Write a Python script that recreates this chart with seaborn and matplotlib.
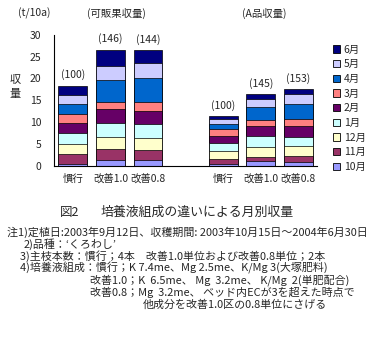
import pandas as pd
import numpy as np
import matplotlib
matplotlib.use("Agg")
import matplotlib.pyplot as plt
import seaborn as sns
from matplotlib.patches import Patch

sns.set_style("white")
plt.rcParams['font.family'] = ['Noto Sans CJK JP', 'DejaVu Sans']

# データ（t/10a）
months = ['10月', '11月', '12月', '1月', '2月', '3月', '4月', '5月', '6月']
colors = ['#9999FF', '#993366', '#FFFFCC', '#CCFFFF', '#660066',
          '#FF8080', '#0066CC', '#CCCCFF', '#000080']
slots = ['a慣行', 'a改善1.0', 'a改善0.8', 'gap', 'b慣行', 'b改善1.0', 'b改善0.8']
tick_labels = ['慣行', '改善1.0', '改善0.8', '', '慣行', '改善1.0', '改善0.8']

# 可販果収量
kanpan_kanko = [0.55, 2.1, 2.3, 2.7, 2.1, 2.1, 2.2, 2.2, 2.0]
kanpan_k10 = [1.45, 2.35, 2.75, 3.35, 3.05, 1.75, 5.0, 3.1, 3.8]
kanpan_k08 = [1.3, 2.45, 2.75, 3.2, 2.95, 2.05, 5.5, 3.4, 2.8]
# A品収量
ahin_kanko = [0.45, 1.2, 1.85, 1.75, 1.7, 1.6, 1.15, 1.05, 0.6]
ahin_k10 = [1.2, 0.9, 2.3, 2.45, 2.35, 1.4, 2.9, 1.8, 1.05]
ahin_k08 = [1.0, 1.35, 2.3, 2.05, 2.5, 1.5, 3.5, 2.15, 1.15]

index_labels = ['(100)', '(146)', '(144)', '', '(100)', '(145)', '(153)']

series = {'a慣行': kanpan_kanko, 'a改善1.0': kanpan_k10, 'a改善0.8': kanpan_k08,
          'b慣行': ahin_kanko, 'b改善1.0': ahin_k10, 'b改善0.8': ahin_k08}

rows = []
for slot, vals in series.items():
    cum = np.cumsum(vals)
    for m, c in zip(months, cum):
        rows.append({'slot': slot, 'month': m, 'cum': c})
df = pd.DataFrame(rows)

fig = plt.figure(figsize=(3.83, 3.57), dpi=100)
ax = fig.add_axes([0.141, 0.535, 0.687, 0.368])

# 累積値を上の月から重ねて描く
for m, col in reversed(list(zip(months, colors))):
    sns.barplot(data=df[df['month'] == m], x='slot', y='cum', order=slots,
                color=col, edgecolor='black', linewidth=0.5, width=0.77,
                saturation=1, errorbar=None, ax=ax)

ax.set_ylim(0, 30)
ax.set_yticks(range(0, 31, 5))
ax.set_xticks(range(len(slots)))
ax.set_xticklabels(tick_labels)
ax.set_xlabel('')
ax.set_ylabel('')
ax.tick_params(axis='y', direction='in', length=3, labelsize=7.5, pad=9)
ax.tick_params(axis='x', length=0, labelsize=7.5, pad=6)
for s in ['top', 'right']:
    ax.spines[s].set_visible(False)
for s in ['left', 'bottom']:
    ax.spines[s].set_color('black')
    ax.spines[s].set_linewidth(0.8)

totals = df.groupby('slot')['cum'].max()
for i, (slot, lab) in enumerate(zip(slots, index_labels)):
    if lab:
        ax.text(i, totals[slot] + 1.3, lab, ha='center', va='bottom', fontsize=7.5)

fig.text(0.09, 0.962, '(t/10a)', ha='center', va='center', fontsize=7.5)
fig.text(0.303, 0.962, '(可販果収量)', ha='center', va='center', fontsize=7.5)
fig.text(0.69, 0.962, '(A品収量)', ha='center', va='center', fontsize=7.5)
fig.text(0.04, 0.775, '収', ha='center', va='center', fontsize=8)
fig.text(0.04, 0.738, '量', ha='center', va='center', fontsize=8)

handles = [Patch(facecolor=c, edgecolor='black', linewidth=0.6, label=m)
           for m, c in reversed(list(zip(months, colors)))]
fig.legend(handles=handles, loc='upper left', bbox_to_anchor=(0.858, 0.887),
           frameon=False, fontsize=7.5, handlelength=0.7, handleheight=0.7,
           handletextpad=0.35, labelspacing=0.45, borderaxespad=0)

fig.text(0.157, 0.406, '図2', ha='left', va='center', fontsize=9)
fig.text(0.262, 0.406, '培養液組成の違いによる月別収量', ha='left', va='center', fontsize=9.3)

notes = [
    (0.018, 0.350, '注1)定植日:2003年9月12日、収穫期間: 2003年10月15日～2004年6月30日'),
    (0.062, 0.316, '2)品種：‘くろわし’'),
    (0.052, 0.283, '3)主枝本数：慣行；4本　改善1.0単位および改善0.8単位；2本'),
    (0.052, 0.249, '4)培養液組成：慣行；K 7.4me、Mg 2.5me、K/Mg 3(大塚肥料)'),
    (0.235, 0.215, '改善1.0；K  6.5me、 Mg  3.2me、 K/Mg  2(単肥配合)'),
    (0.235, 0.181, '改善0.8；Mg  3.2me、 ベッド内ECが3を超えた時点で'),
    (0.373, 0.146, '他成分を改善1.0区の0.8単位にさげる'),
]
for x, y, t in notes:
    fig.text(x, y, t, ha='left', va='center', fontsize=7.9)

fig.savefig('out.png', dpi=100, facecolor='white')
